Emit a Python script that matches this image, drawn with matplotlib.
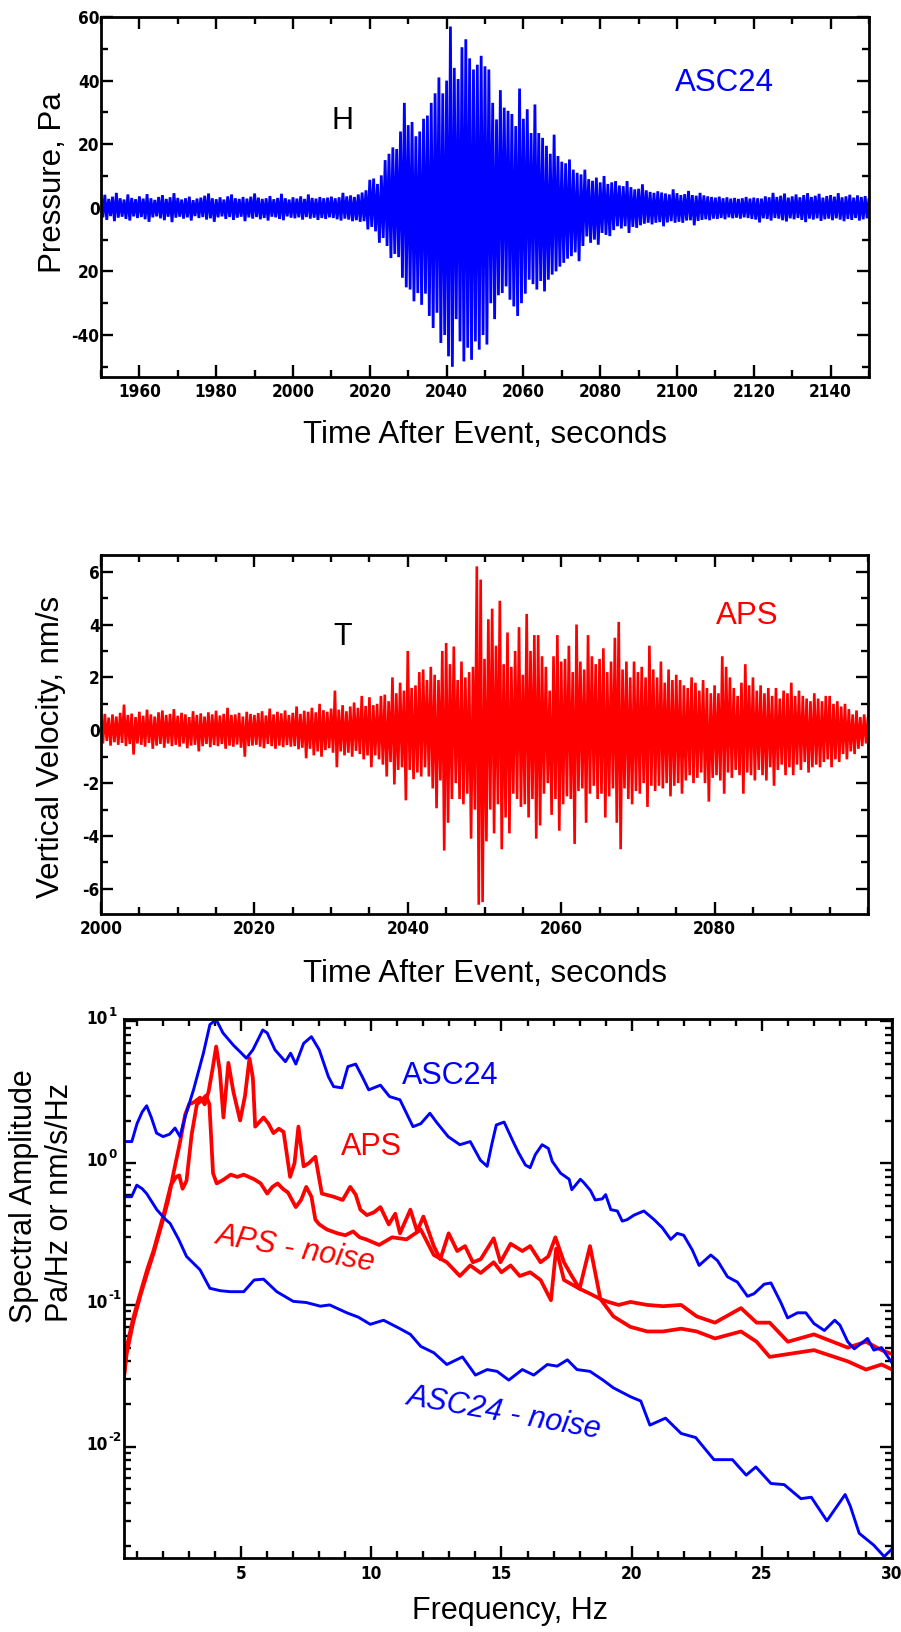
import os
import numpy as np
import matplotlib
matplotlib.use('Agg')
import matplotlib.pyplot as plt
import matplotlib.transforms as mtransforms
from matplotlib import font_manager
from matplotlib.font_manager import FontProperties
from matplotlib.ticker import MultipleLocator, LogLocator, NullFormatter

# ---------------- data ----------------
# Panel 1: ASC24 pressure (Pa), positive / negative excursions each second, 1950..2150 s
p_time_start, p_time_end, p_step = 1950, 2150, 1.0
p_upper = [3.2, 4.1, 2.8, 3.5, 4.7, 3.0, 2.6, 4.2, 3.1, 2.7,
           3.6, 2.9, 4.3, 3.0, 2.5, 3.4, 4.0, 2.8, 3.3, 4.6,
           3.1, 2.6, 3.0, 3.5, 2.4, 2.9, 3.2, 3.8, 4.5, 3.0,
           2.7, 3.3, 2.6, 3.6, 4.2, 3.0, 2.8, 3.4, 2.9, 3.5,
           4.5, 3.2, 2.8, 3.0, 3.7, 2.7, 3.1, 4.4, 3.0, 2.6,
           3.3, 2.9, 3.6, 2.8, 4.2, 3.1, 2.9, 3.4, 3.0, 3.2,
           3.5, 3.0, 3.3, 4.7, 3.6, 3.9, 3.4, 4.2, 4.8, 5.5,
           8.8, 9.2, 7.5, 10.2, 15.0, 17.0, 19.0, 18.5, 24.0, 33.0,
           26.0, 27.0, 22.5, 24.0, 28.0, 29.0, 33.0, 36.0, 41.0, 36.0,
           40.0, 57.0, 44.0, 40.5, 50.5, 53.0, 47.0, 43.5, 45.0, 47.8,
           44.5, 43.5, 33.0, 27.8, 37.0, 31.5, 30.5, 29.5, 25.7, 37.5,
           28.0, 31.0, 23.5, 32.5, 23.5, 22.0, 19.5, 17.0, 23.0, 16.3,
           14.5, 14.0, 15.2, 12.0, 11.0, 10.5, 12.0, 9.0, 8.5, 9.5,
           8.0, 10.0, 7.5, 8.0, 8.4, 7.0, 6.8, 8.4, 6.5, 5.8,
           6.0, 7.4, 5.5, 5.0, 4.7, 5.2, 4.8, 4.5, 4.2, 5.8,
           4.6, 4.0, 4.3, 5.3, 4.0, 3.8, 4.7, 3.9, 3.6, 3.4,
           3.2, 3.5, 3.0, 3.3, 2.9, 3.1, 2.8, 3.0, 3.4, 2.9,
           3.2, 3.0, 2.9, 3.6, 3.3, 4.7, 3.4, 3.8, 4.5, 3.2,
           3.6, 4.2, 3.3, 4.0, 4.6, 3.4, 3.8, 4.4, 3.2, 3.7,
           4.0, 3.5, 4.6, 3.3, 3.6, 4.1, 3.2, 3.9, 3.4, 3.7, 3.0]
p_lower = [-3.0, -3.8, -2.6, -4.2, -3.1, -2.8, -3.5, -4.0, -2.7, -3.2,
           -2.9, -3.6, -4.4, -3.0, -2.7, -3.3, -3.9, -2.8, -4.5, -3.1,
           -2.8, -3.4, -3.0, -4.0, -2.6, -3.2, -2.9, -3.7, -3.3, -4.4,
           -3.0, -2.7, -3.5, -2.9, -3.8, -3.1, -2.8, -4.2, -3.0, -3.4,
           -2.9, -3.6, -3.2, -4.0, -2.8, -3.0, -3.5, -3.9, -2.7, -3.1,
           -3.3, -3.0, -3.7, -2.9, -3.4, -3.1, -3.8, -3.2, -3.5, -3.0,
           -3.2, -3.6, -4.0, -3.4, -3.7, -4.2, -3.9, -4.4, -4.2, -6.8,
           -6.0, -7.4, -11.0, -9.5, -12.0, -15.8, -14.5, -15.5, -22.0, -25.0,
           -25.7, -29.4, -26.8, -30.5, -27.0, -34.0, -37.8, -33.0, -42.5, -40.0,
           -46.7, -50.0, -35.0, -42.0, -48.3, -44.0, -47.8, -42.0, -44.6, -40.0,
           -43.0, -30.0, -35.0, -27.5, -26.8, -24.7, -28.9, -31.0, -34.0, -30.0,
           -27.0, -22.6, -24.0, -25.7, -23.0, -26.3, -22.6, -21.0, -20.0, -18.5,
           -17.3, -16.0, -15.2, -14.0, -16.8, -12.0, -9.0, -11.0, -10.0, -11.6,
           -7.9, -8.5, -8.9, -7.0, -5.8, -6.5, -5.8, -7.9, -6.0, -6.3,
           -5.5, -5.0, -4.7, -5.2, -4.7, -4.5, -5.8, -4.6, -4.2, -4.7,
           -4.4, -4.7, -4.0, -3.9, -5.5, -4.1, -3.8, -3.6, -3.9, -3.4,
           -3.5, -3.2, -3.6, -3.0, -3.3, -3.1, -3.4, -3.0, -3.2, -3.5,
           -3.7, -4.6, -3.3, -3.5, -4.0, -3.2, -3.4, -3.9, -4.3, -3.3,
           -3.6, -3.2, -3.8, -4.5, -3.4, -3.7, -3.3, -4.1, -3.6, -3.4,
           -3.9, -3.3, -3.7, -4.2, -3.5, -3.8, -3.2, -4.0, -3.6, -3.3, -3.0]

# Panel 2: APS vertical velocity (nm/s), excursions every 0.5 s, 2000..2100 s
v_time_start, v_time_end, v_step = 2000, 2100, 0.5
v_upper = [0.55, 0.62, 0.48, 0.60, 0.52, 0.66, 0.97, 0.58, 0.63, 0.50,
           0.70, 0.55, 0.78, 0.60, 0.52, 0.68, 0.75, 0.58, 0.62, 0.80,
           0.55, 0.66, 0.60, 0.50, 0.72, 0.58, 0.64, 0.52, 0.68, 0.60,
           0.74, 0.56, 0.62, 0.85, 0.58, 0.60, 0.66, 0.52, 0.70, 0.62,
           0.58, 0.65, 0.72, 0.56, 0.82, 0.60, 0.70, 0.64, 0.75, 0.58,
           0.66, 0.90, 0.62, 0.74, 0.70, 0.85, 0.68, 1.00, 0.76, 0.70,
           0.82, 1.50, 0.78, 0.95, 0.72, 0.90, 1.05, 0.85, 1.30, 0.92,
           1.25, 0.95, 1.00, 1.30, 1.35, 1.10, 2.00, 1.40, 1.80, 1.50,
           3.00, 1.60, 1.70, 2.20, 2.30, 1.90, 2.40, 2.10, 1.90, 3.00,
           3.30, 2.50, 3.17, 1.90, 2.60, 2.00, 2.20, 2.40, 6.20, 5.70,
           2.70, 4.20, 4.60, 3.20, 4.90, 2.50, 3.70, 2.40, 3.00, 3.90,
           2.10, 4.40, 3.00, 3.60, 3.60, 2.80, 2.40, 1.50, 2.80, 3.60,
           2.60, 2.70, 3.20, 2.20, 4.00, 2.60, 2.30, 3.60, 2.80, 2.50,
           2.70, 3.10, 2.20, 2.60, 3.50, 4.10, 2.30, 2.60, 2.00, 2.60,
           2.20, 2.40, 2.00, 3.20, 2.30, 2.00, 2.60, 1.80, 2.30, 1.90,
           2.10, 1.90, 1.70, 1.60, 2.00, 1.80, 1.50, 1.90, 1.60, 1.40,
           1.70, 1.40, 2.80, 2.40, 2.00, 1.60, 1.30, 1.80, 2.50, 1.70,
           2.00, 1.50, 1.70, 1.40, 1.60, 1.30, 1.60, 1.20, 1.50, 1.40,
           1.80, 1.30, 1.50, 1.30, 1.20, 1.10, 1.40, 1.20, 1.10, 1.30,
           1.30, 1.00, 1.10, 0.90, 1.00, 0.80, 0.60, 0.75, 0.50, 0.60,
           0.50]
v_lower = [-0.50, -0.40, -0.58, -0.45, -0.55, -0.48, -0.60, -0.52, -0.92, -0.50,
           -0.55, -0.62, -0.48, -0.70, -0.58, -0.52, -0.66, -0.50, -0.60, -0.55,
           -0.62, -0.50, -0.68, -0.58, -0.55, -0.80, -0.60, -0.52, -0.64, -0.56,
           -0.60, -0.52, -0.70, -0.58, -0.62, -0.54, -0.66, -1.00, -0.60, -0.58,
           -0.55, -0.62, -0.68, -0.52, -0.60, -0.70, -0.58, -0.64, -0.56, -0.62,
           -0.60, -0.72, -0.66, -1.06, -0.70, -0.95, -0.80, -1.00, -0.75, -0.68,
           -0.85, -1.40, -0.80, -0.95, -0.85, -1.00, -0.78, -0.90, -1.10, -0.95,
           -1.40, -0.95, -1.10, -1.30, -1.75, -1.20, -2.05, -1.50, -1.40, -2.65,
           -1.50, -1.85, -1.60, -1.75, -1.40, -1.75, -2.20, -2.95, -1.90, -4.55,
           -3.50, -2.60, -2.00, -2.60, -2.80, -2.40, -4.10, -3.00, -6.60, -6.50,
           -4.20, -3.00, -3.90, -2.80, -4.50, -3.30, -3.90, -2.40, -2.60, -2.90,
           -2.80, -3.30, -2.60, -4.10, -3.60, -2.40, -2.00, -3.20, -2.60, -3.80,
           -2.80, -2.50, -2.60, -4.30, -2.30, -2.20, -3.50, -2.40, -2.10, -2.60,
           -2.40, -3.30, -2.50, -2.20, -3.50, -4.50, -2.20, -2.60, -2.80, -2.30,
           -2.40, -2.00, -2.90, -2.10, -2.30, -2.10, -2.20, -2.00, -2.50, -2.10,
           -2.00, -2.40, -1.90, -1.70, -2.00, -1.80, -1.60, -2.00, -2.70, -1.80,
           -1.70, -1.90, -2.40, -1.60, -1.80, -1.50, -1.70, -2.40, -1.60, -1.70,
           -1.90, -1.50, -1.70, -1.90, -1.40, -2.10, -1.50, -1.30, -1.70, -1.40,
           -1.70, -1.30, -1.50, -1.20, -1.60, -1.40, -1.30, -1.40, -1.20, -1.10,
           -1.40, -1.10, -1.20, -0.90, -1.10, -0.80, -0.90, -0.70, -0.60, -0.50,
           -0.45]

# Panel 3: spectral amplitudes
asc_freq = [0.5, 0.8, 1.0, 1.2, 1.37, 1.55, 1.75, 2.0, 2.25, 2.46, 2.65, 2.85, 3.17, 3.55, 3.8,
            4.04, 4.3, 4.7, 5.0, 5.2, 5.45, 5.83, 6.0, 6.3, 6.7, 6.9, 7.1, 7.4, 7.7, 8.0,
            8.35, 8.55, 8.87, 9.1, 9.4, 9.65, 9.9, 10.35, 10.7, 11.1, 11.6, 11.9, 12.25, 12.5,
            12.95, 13.4, 13.8, 14.19, 14.45, 14.64, 14.8, 15.1, 15.47, 15.66, 15.92, 16.1,
            16.3, 16.56, 16.8, 16.95, 17.27, 17.6, 17.7, 18.03, 18.16, 18.42, 18.6, 18.87,
            19.0, 19.2, 19.45, 19.64, 19.83, 20.09, 20.47, 20.86, 21.18, 21.5, 21.75, 22.0,
            22.33, 22.59, 23.04, 23.3, 23.68, 24.06, 24.45, 24.7, 25.09, 25.35, 25.73,
            25.99, 26.37, 26.69, 27.0, 27.4, 27.8, 28.0, 28.3, 28.55, 29.06, 29.3, 29.6, 30.0]
asc_amp = [1.42, 1.42, 1.9, 2.3, 2.54, 2.1, 1.63, 1.54, 1.6, 1.77, 1.54, 2.13, 3.29, 5.97, 9.5,
           10.3, 8.3, 6.8, 6.0, 5.5, 6.3, 8.7, 8.3, 6.3, 5.2, 5.97, 5.0, 7.0, 7.8, 6.3,
           4.08, 3.47, 3.4, 4.8, 5.0, 4.08, 3.29, 3.55, 2.95, 2.8, 1.81, 1.9, 2.25, 1.95,
           1.54, 1.35, 1.42, 1.05, 0.95, 1.39, 1.86, 1.95, 1.39, 1.18, 0.97, 0.93,
           1.15, 1.35, 1.27, 1.03, 0.85, 0.77, 0.65, 0.77, 0.73, 0.64, 0.55, 0.56,
           0.60, 0.47, 0.46, 0.39, 0.40, 0.43, 0.46, 0.40, 0.35, 0.29, 0.32, 0.31,
           0.244, 0.19, 0.225, 0.205, 0.158, 0.145, 0.115, 0.12, 0.14, 0.143, 0.104,
           0.081, 0.088, 0.088, 0.074, 0.066, 0.078, 0.072, 0.055, 0.049, 0.058, 0.048, 0.05, 0.039]

ascn_freq = [0.5, 0.79, 0.99, 1.2, 1.37, 1.76, 2.1, 2.27, 2.6, 2.9, 3.42, 3.8, 4.2, 4.58, 5.1,
             5.5, 5.86, 6.37, 7.0, 7.5, 8.04, 8.4, 9.06, 9.5, 9.96, 10.47, 11.1, 11.5, 11.9,
             12.4, 12.9, 13.5, 14.0, 14.45, 14.83, 15.28, 15.8, 16.24, 16.76, 17.14, 17.53,
             17.9, 18.4, 18.9, 19.3, 19.96, 20.35, 20.7, 21.3, 21.9, 22.46, 23.16, 23.87,
             24.4, 24.77, 25.35, 25.86, 26.5, 26.9, 27.5, 28.2, 28.4, 28.74, 29.3, 29.7, 30.0]
ascn_amp = [0.58, 0.58, 0.70, 0.66, 0.61, 0.47, 0.40, 0.376, 0.29, 0.22, 0.177, 0.131, 0.126,
            0.124, 0.124, 0.15, 0.152, 0.124, 0.106, 0.104, 0.098, 0.10, 0.088, 0.082, 0.073,
            0.078, 0.068, 0.062, 0.051, 0.046, 0.038, 0.043, 0.032, 0.035, 0.034, 0.0295,
            0.035, 0.032, 0.038, 0.037, 0.041, 0.035, 0.034, 0.0295, 0.026, 0.0225, 0.021,
            0.0142, 0.0159, 0.0124, 0.0116, 0.0081, 0.0081, 0.0063, 0.0072, 0.0055, 0.0054,
            0.0043, 0.0044, 0.003, 0.0046, 0.0038, 0.00245, 0.00202, 0.00168, 0.0019]

aps_freq = [0.5, 0.6, 0.85, 1.12, 1.4, 1.63, 2.0, 2.2, 2.4, 2.65, 2.85, 3.0, 3.2, 3.42, 3.6,
            3.75, 3.9, 4.04, 4.18, 4.32, 4.51, 4.7, 4.96, 5.15, 5.32, 5.45, 5.54, 5.86, 6.05,
            6.24, 6.45, 6.63, 6.88, 7.05, 7.2, 7.4, 7.6, 7.85, 8.1, 8.55, 8.9, 9.19, 9.4,
            9.58, 9.83, 10.1, 10.35, 10.67, 10.92, 11.1, 11.5, 11.76, 12.0, 12.4, 12.65,
            12.97, 13.3, 13.6, 13.9, 14.2, 14.7, 14.96, 15.35, 15.8, 16.1, 16.5, 16.8,
            17.07, 17.4, 17.7, 18.0, 18.4, 18.8, 19.1, 19.5, 19.95, 20.6, 21.2, 21.9, 22.5,
            23.2, 24.2, 24.8, 25.3, 26.0, 27.0, 28.3, 29.0, 29.6, 30.0]
aps_amp = [0.031, 0.045, 0.075, 0.115, 0.17, 0.23, 0.40, 0.55, 0.85, 1.4, 2.2, 2.6, 2.7, 2.9,
           2.6, 3.2, 4.6, 6.65, 4.5, 2.1, 5.1, 3.2, 2.0, 3.0, 5.5, 4.0, 1.81, 2.1, 1.9, 1.63,
           1.75, 1.66, 0.8, 1.0, 1.81, 0.95, 1.0, 1.11, 0.61, 0.58, 0.55, 0.68, 0.6, 0.47,
           0.43, 0.45, 0.49, 0.37, 0.44, 0.32, 0.47, 0.33, 0.42, 0.26, 0.21, 0.32, 0.24,
           0.26, 0.2, 0.21, 0.295, 0.2, 0.27, 0.24, 0.26, 0.2, 0.22, 0.30, 0.2, 0.16, 0.13,
           0.26, 0.11, 0.105, 0.1, 0.105, 0.1, 0.098, 0.1, 0.083, 0.075, 0.095, 0.075, 0.075,
           0.055, 0.062, 0.05, 0.055, 0.048, 0.045]

apsn_freq = [0.5, 0.6, 0.85, 1.12, 1.4, 1.63, 2.0, 2.3, 2.5, 2.62, 2.75, 2.9, 3.1, 3.3, 3.5,
             3.65, 3.78, 3.92, 4.06, 4.3, 4.6, 4.85, 5.1, 5.5, 5.75, 6.0, 6.2, 6.4, 6.6, 6.8,
             7.1, 7.3, 7.5, 7.7, 7.85, 8.0, 8.3, 8.7, 9.0, 9.3, 9.55, 9.8, 10.3, 10.8, 11.35,
             11.9, 12.4, 12.9, 13.4, 13.8, 14.2, 14.7, 15.0, 15.35, 15.7, 16.1, 16.5, 16.9,
             17.1, 17.4, 18.0, 18.4, 18.8, 19.3, 19.95, 20.6, 21.2, 21.9, 22.5, 23.2, 24.2,
             24.8, 25.3, 26.0, 27.0, 28.3, 29.0, 29.6, 30.0]
apsn_amp = [0.031, 0.05, 0.08, 0.12, 0.18, 0.24, 0.42, 0.70, 0.80, 0.82, 0.66, 0.75, 1.6, 2.6,
            2.8, 3.0, 2.6, 0.85, 0.72, 0.76, 0.83, 0.80, 0.83, 0.77, 0.72, 0.61, 0.68, 0.72,
            0.66, 0.62, 0.49, 0.55, 0.68, 0.58, 0.40, 0.37, 0.34, 0.32, 0.31, 0.33, 0.30,
            0.29, 0.265, 0.30, 0.29, 0.34, 0.225, 0.20, 0.16, 0.19, 0.168, 0.2, 0.17, 0.19,
            0.16, 0.17, 0.15, 0.108, 0.25, 0.15, 0.13, 0.12, 0.11, 0.083, 0.07, 0.065, 0.065,
            0.068, 0.065, 0.058, 0.065, 0.055, 0.043, 0.045, 0.048, 0.04, 0.035, 0.038, 0.035]

p_ticks = [60, 40, 20, 0, -20, -40]
p_ticklabels = ['60', '40', '20', '0', '20', '-40']
v_ticks = [6, 4, 2, 0, -2, -4, -6]
v_ticklabels = ['6', '4', '2', '0', '-2', '-4', '-6']
p_xticks = [1960, 1980, 2000, 2020, 2040, 2060, 2080, 2100, 2120, 2140]
v_xticks = [2000, 2020, 2040, 2060, 2080]
s_xticks = [5, 10, 15, 20, 25, 30]
s_yticks = [1e-2, 1e-1, 1e0, 1e1]
s_yexponents = ['-2', '-1', '0', '1']

# ---------------- fonts ----------------
paths = {os.path.basename(f.fname).lower(): f.fname for f in font_manager.fontManager.ttflist}
names = {f.name for f in font_manager.fontManager.ttflist}
tick_path = None
for cand in ['liberationsansnarrow-bold.ttf', 'dejavusanscondensed-bold.ttf',
             'notosans-condensedbold.ttf', 'robotocondensed-bold.ttf', 'opensans-condbold.ttf']:
    if cand in paths:
        tick_path = paths[cand]
        break
if tick_path is None:
    for bn, full in paths.items():
        if ('narrow' in bn or 'condensed' in bn) and 'bold' in bn and not any(
                k in bn for k in ('italic', 'oblique', 'semi', 'extra', 'light')):
            tick_path = full
            break


def tickfp(size):
    if tick_path:
        return FontProperties(fname=tick_path, size=size)
    return FontProperties(family='DejaVu Sans', weight='bold', size=size)


TICK_FP = tickfp(12.3)
EXP_FP = tickfp(9.5)
LABEL_FAMILY = 'Liberation Sans' if 'Liberation Sans' in names else 'DejaVu Sans'
plt.rcParams['font.family'] = [LABEL_FAMILY, 'DejaVu Sans']
plt.rcParams['axes.unicode_minus'] = False

BLUE = '#0000ff'
RED = '#ff0000'
W, H = 901, 1632
fig = plt.figure(figsize=(W / 100, H / 100), dpi=100)


def box(x0, y0, x1, y1):
    return [x0 / W, 1 - y1 / H, (x1 - x0) / W, (y1 - y0) / H]


def style(ax):
    for sp in ax.spines.values():
        sp.set_linewidth(2.0)
    ax.tick_params(which='both', direction='in', top=True, right=True, width=1.7)
    ax.tick_params(which='major', length=8.5)
    ax.tick_params(which='minor', length=5)


def ftext(x, y, s, **kw):
    fig.text(x / W, 1 - y / H, s, **kw)


# ---- Panel 1 ----
ax1 = fig.add_axes(box(101, 17, 869, 377))
t1 = np.arange(p_time_start, p_time_end + p_step / 2, p_step)
x1 = np.column_stack([t1, t1 + p_step / 2]).ravel()
y1 = np.column_stack([p_upper, p_lower]).ravel()
ax1.plot(x1, y1, color=BLUE, lw=2.0, solid_joinstyle='miter')
ax1.set_xlim(1950, 2150)
ax1.set_ylim(-53.2, 60)
style(ax1)
ax1.set_xticks(p_xticks, [str(v) for v in p_xticks], fontproperties=TICK_FP)
ax1.xaxis.set_minor_locator(MultipleLocator(10))
ax1.set_yticks(p_ticks, p_ticklabels, fontproperties=TICK_FP)
ax1.yaxis.set_minor_locator(MultipleLocator(10))
ax1.tick_params(axis='x', pad=4)
ax1.tick_params(axis='y', pad=1)
ftext(342, 121, 'H', fontsize=22, ha='center', va='center')
ftext(724, 83, 'ASC24', fontsize=22.5, color=BLUE, ha='center', va='center')
ftext(53, 183, 'Pressure, Pa', fontsize=22.5, rotation=90, ha='center', va='center')
ftext(485, 435, 'Time After Event, seconds', fontsize=22.5, ha='center', va='center')

# ---- Panel 2 ----
ax2 = fig.add_axes(box(101, 555, 868, 914))
t2 = np.arange(v_time_start, v_time_end + v_step / 2, v_step)
x2 = np.column_stack([t2, t2 + v_step / 2]).ravel()
y2 = np.column_stack([v_upper, v_lower]).ravel()
ax2.plot(x2, y2, color=RED, lw=1.9, solid_joinstyle='miter')
ax2.set_xlim(2000, 2100)
ax2.set_ylim(-6.95, 6.63)
style(ax2)
ax2.set_xticks(v_xticks, [str(v) for v in v_xticks], fontproperties=TICK_FP)
ax2.xaxis.set_minor_locator(MultipleLocator(5))
ax2.set_yticks(v_ticks, v_ticklabels, fontproperties=TICK_FP)
ax2.yaxis.set_minor_locator(MultipleLocator(1))
ax2.tick_params(axis='x', pad=4)
ax2.tick_params(axis='y', pad=1)
ftext(343, 637, 'T', fontsize=22, ha='center', va='center')
ftext(747, 616, 'APS', fontsize=22.5, color=RED, ha='center', va='center')
ftext(51, 747, 'Vertical Velocity, nm/s', fontsize=22.5, rotation=90, ha='center', va='center')
ftext(485, 974, 'Time After Event, seconds', fontsize=22.5, ha='center', va='center')

# ---- Panel 3 ----
ax3 = fig.add_axes(box(124, 1019, 892, 1558))
ax3.plot(aps_freq, aps_amp, color=RED, lw=2.7)
ax3.plot(apsn_freq, apsn_amp, color=RED, lw=2.7)
ax3.plot(asc_freq, asc_amp, color=BLUE, lw=2.1)
ax3.plot(ascn_freq, ascn_amp, color=BLUE, lw=2.1)
ax3.set_yscale('log')
ax3.set_xlim(0.5, 30)
ax3.set_ylim(0.00164, 10.4)
style(ax3)
ax3.set_xticks(s_xticks, [str(v) for v in s_xticks], fontproperties=TICK_FP)
ax3.xaxis.set_minor_locator(MultipleLocator(1))
ax3.set_yticks(s_yticks, ['' for _ in s_yticks])
ax3.yaxis.set_minor_locator(LogLocator(base=10, subs=np.arange(2, 10)))
ax3.yaxis.set_minor_formatter(NullFormatter())
ax3.tick_params(axis='x', pad=5)
ytrans = mtransforms.blended_transform_factory(ax3.transAxes, ax3.transData)
for val, ex in zip(s_yticks, s_yexponents):
    ax3.annotate('10', xy=(0, val), xycoords=ytrans, xytext=(-11.5, 1.5),
                 textcoords='offset points', ha='right', va='center',
                 fontproperties=TICK_FP, annotation_clip=False)
    ax3.annotate(ex, xy=(0, val), xycoords=ytrans, xytext=(-11.3, 6.5),
                 textcoords='offset points', ha='left', va='center',
                 fontproperties=EXP_FP, annotation_clip=False)
ftext(450, 1076, 'ASC24', fontsize=22, color=BLUE, ha='center', va='center')
ftext(371, 1147, 'APS', fontsize=22, color=RED, ha='center', va='center')
ftext(295, 1249, 'APS - noise', fontsize=22, color=RED, style='italic',
      rotation=-10, ha='center', va='center')
ftext(504, 1413, 'ASC24 - noise', fontsize=22, color=BLUE, style='italic',
      rotation=-10, ha='center', va='center')
ftext(24, 1323, 'Spectral Amplitude', fontsize=22, rotation=90, ha='center', va='bottom')
ftext(60, 1322, 'Pa/Hz or nm/s/Hz', fontsize=22, rotation=90, ha='center', va='bottom')
ftext(510, 1611, 'Frequency, Hz', fontsize=22, ha='center', va='center')

fig.savefig('out.png', dpi=100)
